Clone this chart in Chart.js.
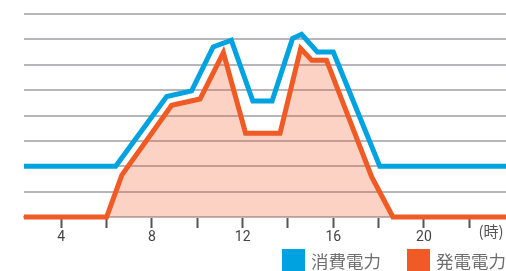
<!DOCTYPE html>
<html>
<head>
<meta charset="utf-8">
<script src="https://cdn.jsdelivr.net/npm/chart.js@4"></script>
<style>
  html, body { margin: 0; padding: 0; background: #fff; }
  #wrap { width: 506px; height: 271px; position: relative; }
</style>
</head>
<body>
<div id="wrap"><canvas id="chart"></canvas></div>
<script>
// hourly power curve: consumption vs. generation (grid units 0..8)
const seriesLabels = ["消費電力", "発電電力"];
const consumptionHours  = [2, 6.4, 8.65, 9.75, 10.7, 11.5, 12.45, 13.3, 14.2, 14.6, 15.3, 16.0, 18.05, 24];
const consumptionValues = [2, 2, 4.75, 4.97, 6.7, 6.97, 4.57, 4.57, 7.03, 7.2, 6.5, 6.5, 2, 2];
const generationHours   = [2, 6.0, 6.67, 8.87, 10.12, 11.15, 12.13, 13.65, 14.56, 15.05, 15.7, 17.69, 18.63, 24];
const generationValues  = [0, 0, 1.65, 4.4, 4.65, 6.48, 3.3, 3.3, 6.64, 6.18, 6.18, 1.59, 0, 0];
const xTicks      = [4, 6, 8, 10, 12, 14, 16, 18, 20, 22];
const xTickLabels = ["4", "", "8", "", "12", "", "16", "", "20", ""];
const unitLabel = "(時)";

const colorBlue = "#00a3e0";
const colorOrange = "#f05a24";
const gridGray = "#b6b6bb";

const toPoints = (xs, ys) => xs.map((x, i) => ({ x, y: ys[i] }));

// legend + unit label drawn by hand so they sit where the original has them
const ExtrasPlugin = {
  id: "extras",
  afterDraw(chart) {
    const { ctx } = chart;
    ctx.save();
    ctx.fillStyle = "#555";
    ctx.font = "15px 'Noto Sans CJK JP'";
    ctx.textAlign = "center";
    ctx.textBaseline = "middle";
    ctx.fillText(unitLabel, 491, 231);

    const items = [
      { x: 282, color: colorBlue, text: seriesLabels[0] },
      { x: 407, color: colorOrange, text: seriesLabels[1] }
    ];
    ctx.font = "17.5px 'Noto Sans CJK JP'";
    ctx.textAlign = "left";
    items.forEach(it => {
      ctx.fillStyle = it.color;
      ctx.fillRect(it.x, 249, 23, 22);
      ctx.fillStyle = "#6e6e6e";
      ctx.fillText(it.text, it.x + 29, 261);
    });
    ctx.restore();
  }
};

new Chart(document.getElementById("chart"), {
  type: "line",
  data: {
    datasets: [
      {
        label: seriesLabels[0],
        data: toPoints(consumptionHours, consumptionValues),
        borderColor: colorBlue,
        borderWidth: 5,
        borderJoinStyle: "miter",
        pointRadius: 0,
        fill: false,
        tension: 0,
        clip: { left: 0, right: 0, top: 5, bottom: 5 }
      },
      {
        label: seriesLabels[1],
        data: toPoints(generationHours, generationValues),
        borderColor: colorOrange,
        backgroundColor: "rgba(240, 90, 36, 0.27)",
        borderWidth: 5,
        borderJoinStyle: "miter",
        pointRadius: 0,
        fill: "origin",
        tension: 0,
        clip: { left: 0, right: 0, top: 5, bottom: 5 }
      }
    ]
  },
  options: {
    responsive: true,
    maintainAspectRatio: false,
    animation: false,
    layout: { padding: { top: 14, left: 0, right: 0, bottom: 0 } },
    scales: {
      x: {
        type: "linear",
        min: 2.354,
        max: 23.62,
        afterBuildTicks: s => { s.ticks = xTicks.map(v => ({ value: v })); },
        afterFit: s => { s.height = 54; },
        ticks: {
          autoSkip: false,
          maxRotation: 0,
          padding: 1,
          color: "#444",
          font: { family: "Roboto", size: 14 },
          callback: (v, i) => xTickLabels[i]
        },
        grid: {
          drawOnChartArea: false,
          tickLength: 11,
          tickColor: "#555",
          tickWidth: 2
        },
        border: { color: gridGray, width: 2 }
      },
      y: {
        min: 0,
        max: 8,
        afterFit: s => { s.width = 24; },
        ticks: { display: false, stepSize: 1 },
        grid: { color: gridGray, lineWidth: 2, drawTicks: false },
        border: { display: false }
      }
    },
    plugins: {
      legend: { display: false },
      tooltip: { enabled: false }
    }
  },
  plugins: [ExtrasPlugin]
});
</script>
</body>
</html>
